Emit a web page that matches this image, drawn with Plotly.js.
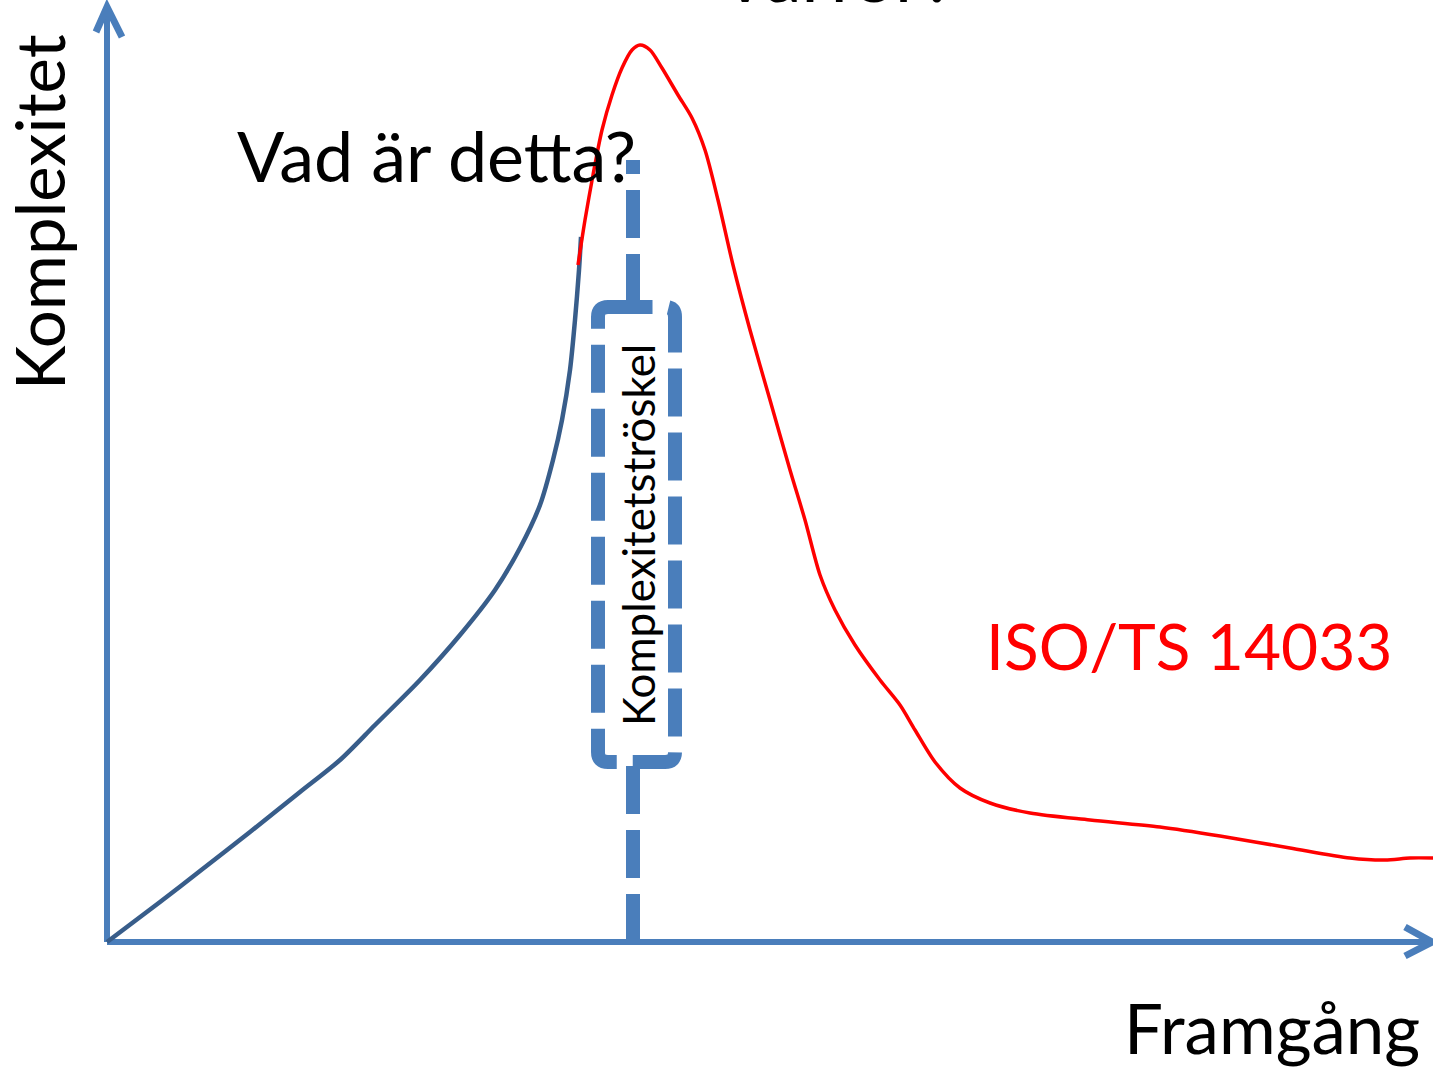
<!DOCTYPE html>
<html>
<head>
<meta charset="utf-8">
<script src="https://cdn.plot.ly/plotly-3.0.1.min.js"></script>
<style>
html,body{margin:0;padding:0;background:#fff;overflow:hidden;}
#chart{width:1433px;height:1068px;}
</style>
</head>
<body>
<div id="chart"></div>
<script>
// Conceptual diagram values (x = progress "Framgång", y = complexity "Komplexitet")
const blueX = [0,53,93,143,193,233,268,313,353,388,413,433,446,455,463,468,472,474];
const blueY = [0,40,71,110,150,182,217,262,307,352,394,437,482,522,572,622,672,705];

const redX = [471,478,486,495,505,515,525,533,543,555,571,585,598,611,626,643,663,683,698,713,728,748,773,793,808,828,853,883,923,983,1053,1113,1183,1243,1278,1303,1326];
const redY = [677,722,767,812,847,874,892,897,892,874,847,824,792,742,677,612,542,472,422,367,332,297,262,237,212,180,154,139,129,122,115,106,94,84,82,84,84];

const thresholdX = 526;
const thresholdTop = 782;
const boxX = [491, 568];
const boxY = [180, 635];
const xMax = 1323;
const yMax = 932;

const labels = {
  title: "Varför?",
  question: "Vad är detta?",
  standard: "ISO/TS 14033",
  xTitle: "Framgång",
  yTitle: "Komplexitet",
  threshold: "Komplexitetströskel"
};

const AX = "#4A7EBB";
const FONT = "Lato, 'Open Sans', sans-serif";

const traces = [
  {x: blueX, y: blueY, mode: "lines", line: {color: "#385D8A", width: 4.5, shape: "spline", smoothing: 0.8}, hoverinfo: "skip"},
  {x: redX, y: redY, mode: "lines", line: {color: "#FF0000", width: 3.5, shape: "spline", smoothing: 0.8}, hoverinfo: "skip"}
];

const r = 10;
const L = boxX[0], R = boxX[1], B = boxY[0], T = boxY[1];
const boxPath = `M ${L+r+20},${T} L ${L+r},${T} Q ${L},${T} ${L},${T-r} L ${L},${B+r} Q ${L},${B} ${L+r},${B} L ${R-r},${B} Q ${R},${B} ${R},${B+r} L ${R},${T-r} Q ${R},${T} ${R-r},${T} L ${L+r+20},${T} Z`;

const shapes = [
  // axes
  {type: "line", x0: 0, y0: 0, x1: xMax+5, y1: 0, line: {color: AX, width: 6}, layer: "below"},
  {type: "line", x0: 0, y0: 0, x1: 0, y1: yMax, line: {color: AX, width: 6}, layer: "below"},
  {type: "path", path: `M ${xMax-25},15 L ${xMax+2},0 L ${xMax-25},-14`, line: {color: AX, width: 7}, layer: "below"},
  {type: "path", path: `M -11,${yMax-22} L 0,${yMax+3} L 15,${yMax-27}`, line: {color: AX, width: 7}, layer: "below"},
  // threshold dashed line
  {type: "line", x0: thresholdX, y0: 0, x1: thresholdX, y1: thresholdTop, line: {color: AX, width: 14, dash: "48px,16px"}, layer: "above"},
  // threshold box
  {type: "path", path: boxPath, fillcolor: "#FFFFFF", line: {color: AX, width: 14, dash: "48px,16px"}, layer: "above"}
];

const annotations = [
  {x: 730, y: 922, text: labels.title, showarrow: false, xanchor: "center", yanchor: "bottom", font: {family: FONT, size: 74, color: "#000"}},
  {x: 329, y: 787, text: labels.question, showarrow: false, xanchor: "center", yanchor: "middle", font: {family: FONT, size: 70, color: "#000"}},
  {x: 1082, y: 297, text: labels.standard, showarrow: false, xanchor: "center", yanchor: "middle", font: {family: FONT, size: 64, color: "#FF0000"}},
  {x: 1165, y: -85, text: labels.xTitle, showarrow: false, xanchor: "center", yanchor: "middle", font: {family: FONT, size: 69, color: "#000"}},
  {x: -68, y: 730, text: labels.yTitle, showarrow: false, textangle: -90, xanchor: "center", yanchor: "middle", font: {family: FONT, size: 67, color: "#000"}},
  {x: 531, y: 407, text: labels.threshold, showarrow: false, textangle: -90, xanchor: "center", yanchor: "middle", font: {family: FONT, size: 44, color: "#000"}}
];

const layout = {
  width: 1433, height: 1068,
  margin: {l: 0, r: 0, t: 0, b: 0, pad: 0},
  paper_bgcolor: "#FFFFFF", plot_bgcolor: "#FFFFFF",
  showlegend: false,
  xaxis: {range: [-107, 1326], visible: false, fixedrange: true},
  yaxis: {range: [-126, 942], visible: false, fixedrange: true},
  shapes: shapes,
  annotations: annotations
};

Plotly.newPlot("chart", traces, layout, {staticPlot: true, displayModeBar: false});
</script>
</body>
</html>
